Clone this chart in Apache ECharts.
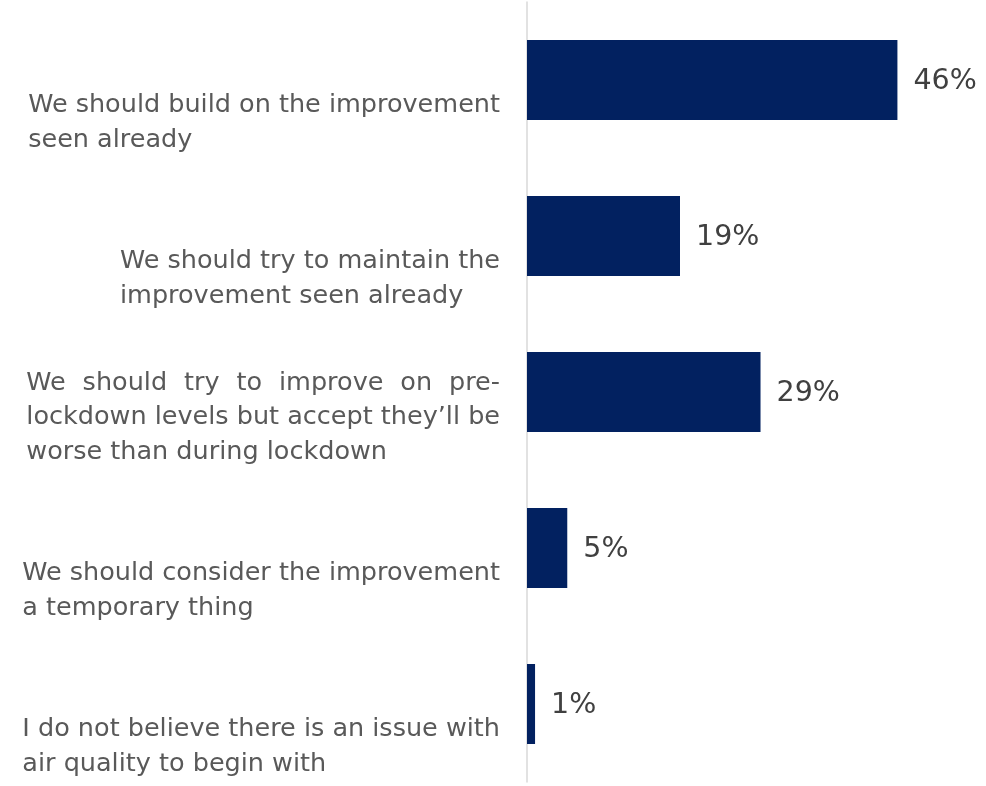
<!DOCTYPE html>
<html>
<head>
<meta charset="utf-8">
<script src="https://cdn.jsdelivr.net/npm/echarts@6/dist/echarts.min.js"></script>
<style>
  html, body { margin: 0; padding: 0; background: #ffffff; }
  #chart { width: 986px; height: 786px; }
</style>
</head>
<body>
<div id="chart"></div>
<script>
// Survey answers, top to bottom, each split into its printed lines
const categories = [
  ['We should build on the improvement', 'seen already'],
  ['We should try to maintain the', 'improvement seen already'],
  ['We should try to improve on pre-', 'lockdown levels but accept they\u2019ll be', 'worse than during lockdown'],
  ['We should consider the improvement', 'a temporary thing'],
  ['I do not believe there is an issue with', 'air quality to begin with']
];
// Share of respondents (%)
const values = [46, 19, 29, 5, 1];

const FONT = '"DejaVu Sans", "Open Sans", sans-serif';
const CAT_SIZE = 25.5;
const LINE_H = 34.5;
const TEXT_GREY = '#595959';

const catKeys = categories.map(function (lines) { return lines.join(' '); });
const maxLines = Math.max.apply(null, categories.map(function (l) { return l.length; }));

// Measure words so that every line but the last of a paragraph is justified
const ctx2d = document.createElement('canvas').getContext('2d');
ctx2d.font = CAT_SIZE + 'px ' + FONT;
function w(s) { return ctx2d.measureText(s).width; }

const rich = {
  l: { align: 'left', fontFamily: FONT, fontSize: CAT_SIZE, lineHeight: LINE_H, color: TEXT_GREY }
};
let gapId = 0;
const richLabels = categories.map(function (lines) {
  const blockW = Math.max.apply(null, lines.map(w));
  const out = lines.map(function (line, i) {
    const words = line.split(' ');
    if (i === lines.length - 1 || words.length < 2) return '{l|' + line + '}';
    const wordsW = words.reduce(function (acc, s) { return acc + w(s); }, 0);
    const gap = (blockW - wordsW) / (words.length - 1);
    const name = 'g' + (gapId++);
    rich[name] = { align: 'left', width: gap, fontFamily: FONT, fontSize: CAT_SIZE, lineHeight: LINE_H };
    return words.map(function (s) { return '{l|' + s + '}'; }).join('{' + name + '| }');
  });
  // Pad shorter blocks at the top so every label ends at the same depth under its bar
  while (out.length < maxLines) out.unshift('{l| }');
  return out.join('\n');
});

const chart = echarts.init(document.getElementById('chart'));
chart.setOption({
  animation: false,
  grid: { left: 527, right: 0, top: 2, height: 780, containLabel: false },
  xAxis: { type: 'value', min: 0, max: 57, show: false },
  yAxis: {
    type: 'category',
    inverse: true,
    data: catKeys,
    axisLine: { show: true, lineStyle: { color: '#d9d9d9', width: 1.5 } },
    axisTick: { show: false },
    splitLine: { show: false },
    axisLabel: {
      interval: 0,
      showMinLabel: true,
      showMaxLabel: true,
      margin: 27,
      verticalAlign: 'middle',
      padding: [51, 0, 0, 0],
      fontFamily: FONT,
      fontSize: CAT_SIZE,
      lineHeight: LINE_H,
      color: TEXT_GREY,
      formatter: function (v, idx) { return richLabels[idx]; },
      rich: rich
    }
  },
  series: [
    {
      type: 'bar',
      data: values,
      barWidth: 80,
      itemStyle: { color: '#022160' },
      label: {
        show: true,
        position: 'right',
        distance: 16,
        offset: [0, 2],
        formatter: '{c}%',
        fontFamily: FONT,
        fontSize: 28.5,
        color: '#404040'
      }
    }
  ]
});
</script>
</body>
</html>
